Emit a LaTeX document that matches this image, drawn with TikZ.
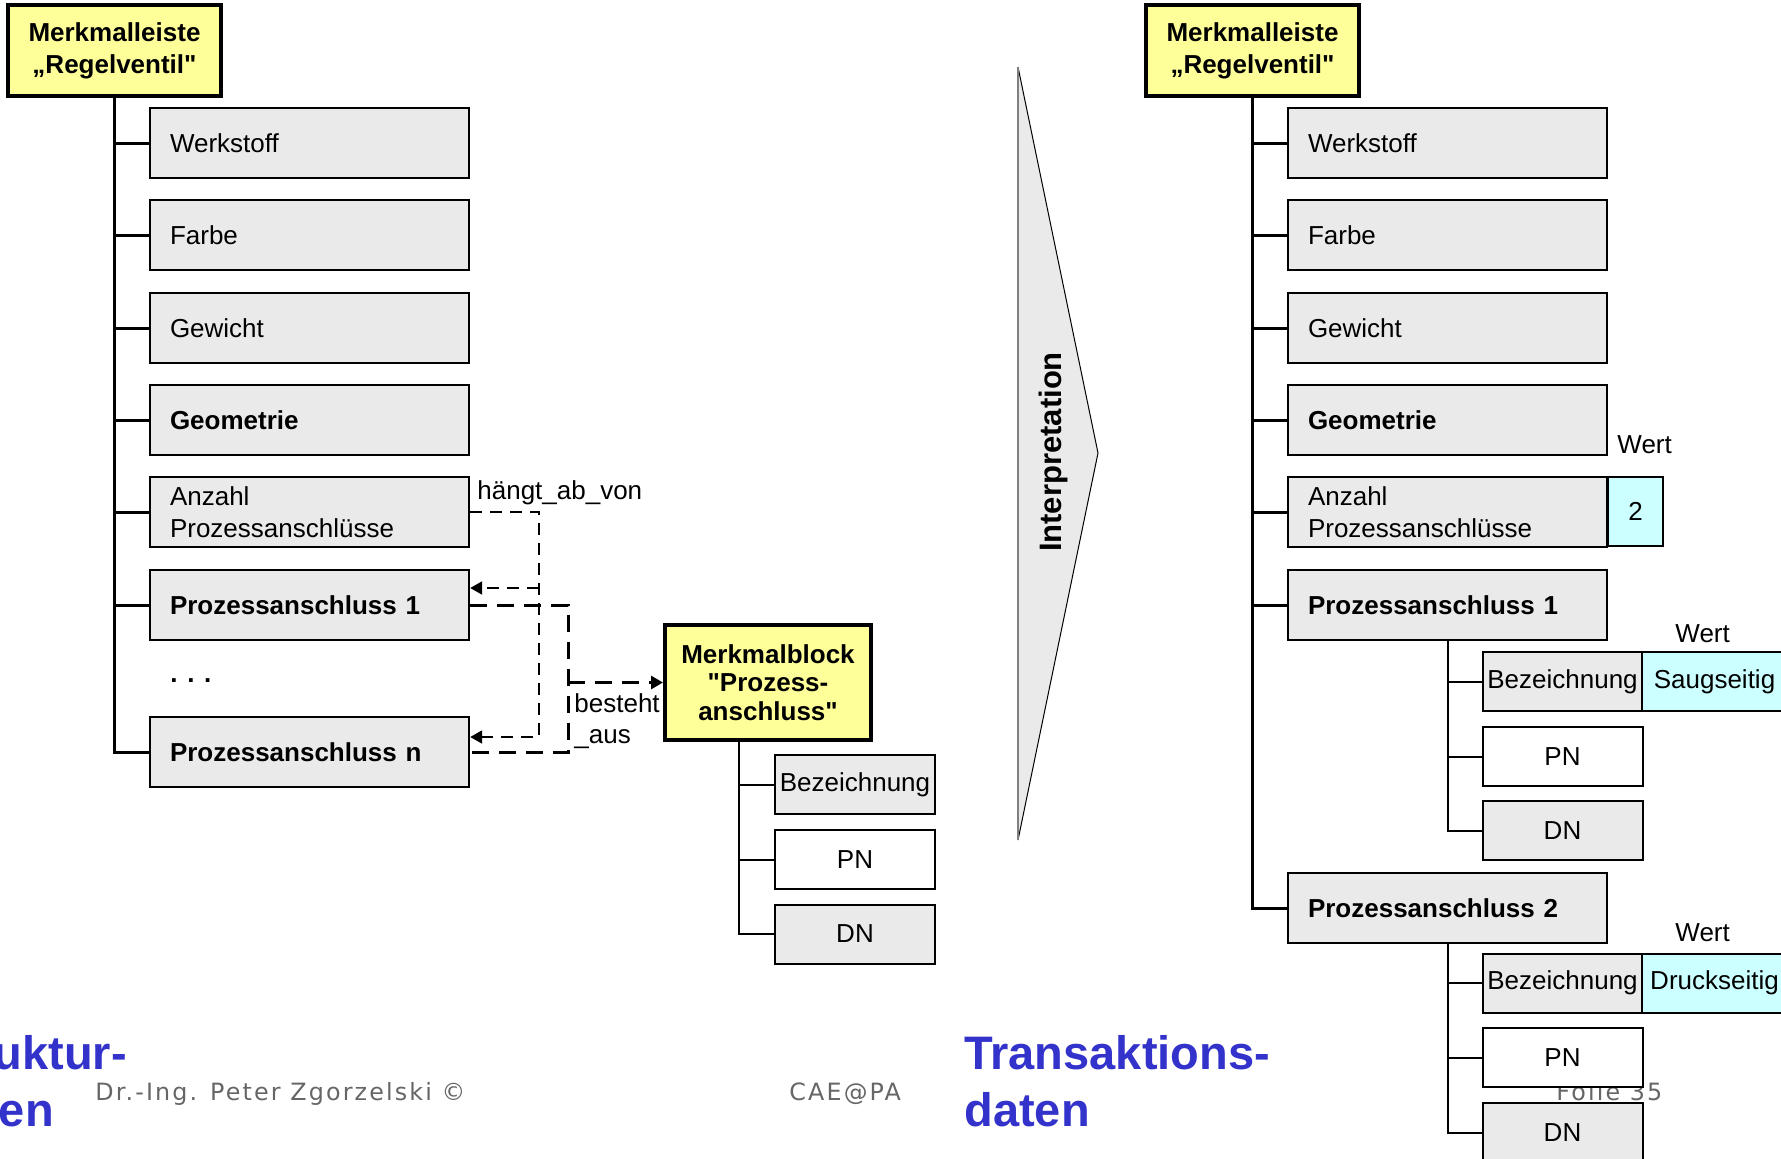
\documentclass[tikz,border=0pt]{standalone}
\usepackage{fontspec}
\setmainfont{Liberation Sans}
% family without TeX ligature mapping, so that " stays a straight quote
\newfontfamily\qfont{Liberation Sans}
\newcommand\sq{{\qfont"}}
\newfontfamily\footfont[LetterSpace=9]{DejaVu Sans}
\usetikzlibrary{arrows.meta}
\definecolor{boxgray}{HTML}{EAEAEA}
\definecolor{markyellow}{HTML}{FFFF99}
\definecolor{valcyan}{HTML}{CCFFFF}
\definecolor{titleblue}{HTML}{3333CC}
\definecolor{footgray}{HTML}{666666}
\newcommand\bodysize{\fontsize{13pt}{16pt}\selectfont}

\begin{document}
\begin{tikzpicture}[x=0.5pt,y=-0.5pt,
  every node/.style={font=\bodysize, inner sep=0pt},
  head/.style={draw=black, line width=2pt, fill=markyellow, font=\bodysize\bfseries,
    align=center, minimum width=106.5pt, minimum height=45.5pt},
  attr/.style={draw=black, line width=1.2pt, fill=boxgray, minimum width=159.5pt,
    minimum height=35pt, text width=139.5pt, inner xsep=10pt, align=left},
  battr/.style={attr, font=\bodysize\bfseries},
  sub/.style={draw=black, line width=1pt, fill=boxgray, minimum width=80pt,
    minimum height=29.5pt, align=center},
  subw/.style={sub, fill=white},
  val/.style={draw=black, line width=1pt, fill=valcyan, minimum height=29.5pt},
  trunk/.style={line width=1.5pt},
  twig/.style={line width=1pt},
  dep/.style={line width=1pt, dash pattern=on 6pt off 4pt},
  cons/.style={line width=1.5pt, dash pattern=on 8.5pt off 5pt},
  tip/.style={-{Triangle[length=6pt,width=6.5pt]}},
  title/.style={anchor=base west, font=\fontsize{23.5pt}{28.5pt}\selectfont\bfseries, text=titleblue},
  foot/.style={anchor=base west, font=\footfont\fontsize{11.9pt}{14pt}\selectfont, text=footgray},
  lbl/.style={anchor=base west}
]
\useasboundingbox (0,0) rectangle (1781,1158);
\clip (0,0) rectangle (1781,1158);
\fill[white] (0,0) rectangle (1781,1158);

% footer and section titles (drawn first, boxes may cover them)
\node[title] (st1) at (-72,1069) {Struktur-};
\node[title] (st2) at (-72,1126) {daten};
\node[title] (tr1) at (964,1069) {Transaktions-};
\node[title] (tr2) at (964,1126) {daten};
\node[foot] (fauth) at (95,1100) {Dr.-Ing. Peter Zgorzelski ©};
\node[foot] (fcae) at (789,1100) {CAE@PA};
\node[foot] (ffol) at (1556,1100) {Folie 35};

% interpretation arrow
\fill[boxgray] (1018,67) -- (1098,453) -- (1018,840) -- cycle;
\draw[line width=0.5pt] (1018,67) -- (1098,453) -- (1018,840);
\draw[gray, line width=1pt] (1018,67) -- (1018,840);
\node[rotate=90, anchor=base, font=\fontsize{15.5pt}{18pt}\selectfont\bfseries] (interp) at (1061,452) {Interpretation};

% ---------- structure data (left) ----------
\node[head] (lroot) at (114.5,50.5) {Merkmalleiste\\„Regelventil\sq};
\node[attr] (lwerk) at (309.5,143) {Werkstoff};
\node[attr] (lfarb) at (309.5,235) {Farbe};
\node[attr] (lgew) at (309.5,328) {Gewicht};
\node[battr] (lgeo) at (309.5,420) {Geometrie};
\node[attr] (lanz) at (309.5,512) {Anzahl\\Prozessanschlüsse};
\node[battr] (lpa1) at (309.5,605) {Prozessanschluss 1};
\node[lbl, font=\bodysize\bfseries] (ldots) at (170,682) {. . .};
\node[battr] (lpan) at (309.5,752) {Prozessanschluss n};

\draw[trunk] (lroot.south) |- (lpan.west);
\foreach \n in {lwerk,lfarb,lgew,lgeo,lanz,lpa1}
  \draw[trunk] (lroot.south |- \n.west) -- (\n.west);

% feature block
\node[head, font=\fontsize{13pt}{14.25pt}\selectfont\bfseries, minimum width=103pt,
  minimum height=57.5pt] (mblk) at (768,682.5) {Merkmalblock\\\sq Prozess-\\anschluss\sq};
\node[sub] (mbez) at (855,784.5) {Bezeichnung};
\node[subw] (mpn) at (855,859.5) {PN};
\node[sub] (mdn) at (855,934) {DN};
\coordinate (mt) at ([xshift=38pt]mblk.south west);
\draw[twig] (mt) |- (mdn.west);
\draw[twig] (mt |- mbez.west) -- (mbez.west);
\draw[twig] (mt |- mpn.west) -- (mpn.west);

% relations
\coordinate (dja) at (539,588);
\coordinate (djb) at (539,737);
\draw[dep,tip] (lanz.east) -| (djb) -- (lpan.east |- djb);
\draw[dep,tip] (dja) -- (lpa1.east |- dja);
\node[lbl] (lhab) at (477,499) {hängt\_ab\_von};

\coordinate (cj) at (568,682.5);
\draw[cons] (lpa1.east) -| (cj |- lpan.east) -- (lpan.east);
\draw[cons,tip] (cj) -- (mblk.west);
\node[lbl] (lbest) at (574,712) {besteht};
\node[lbl] (laus) at (574,743) {\_aus};

% ---------- transaction data (right) ----------
\node[head] (rroot) at (1252.5,50.5) {Merkmalleiste\\„Regelventil\sq};
\node[attr] (rwerk) at (1447.5,143) {Werkstoff};
\node[attr] (rfarb) at (1447.5,235) {Farbe};
\node[attr] (rgew) at (1447.5,328) {Gewicht};
\node[battr] (rgeo) at (1447.5,420) {Geometrie};
\node[attr] (ranz) at (1447.5,512) {Anzahl\\Prozessanschlüsse};
\node[battr] (rpa1) at (1447.5,605) {Prozessanschluss 1};
\node[battr] (rpa2) at (1447.5,908) {Prozessanschluss 2};

\draw[trunk] (rroot.south) |- (rpa2.west);
\foreach \n in {rwerk,rfarb,rgew,rgeo,ranz,rpa1}
  \draw[trunk] (rroot.south |- \n.west) -- (\n.west);

\node[sub] (rbez1) at (1562.5,681.5) {Bezeichnung};
\node[subw] (rpn1) at (1562.5,756.5) {PN};
\node[sub] (rdn1) at (1562.5,830.5) {DN};
\draw[twig] (rpa1.south) |- (rdn1.west);
\draw[twig] (rpa1.south |- rbez1.west) -- (rbez1.west);
\draw[twig] (rpa1.south |- rpn1.west) -- (rpn1.west);

\node[sub] (rbez2) at (1562.5,983) {Bezeichnung};
\node[subw] (rpn2) at (1562.5,1057.5) {PN};
\node[sub] (rdn2) at (1562.5,1132.5) {DN};
\draw[twig] (rpa2.south) |- (rdn2.west);
\draw[twig] (rpa2.south |- rbez2.west) -- (rbez2.west);
\draw[twig] (rpa2.south |- rpn2.west) -- (rpn2.west);

% values
\node[val, minimum width=27.5pt, minimum height=34.5pt] (rv0) at (1635.5,511.5) {2};
\node[val, minimum width=72.5pt] (rv1) at (1714.5,681.5) {Saugseitig};
\node[val, minimum width=72.5pt] (rv2) at (1714.5,983) {Druckseitig};
\node[lbl] (rw0) at (1617,453) {Wert};
\node[lbl] (rw1) at (1675,642) {Wert};
\node[lbl] (rw2) at (1675,941) {Wert};
\end{tikzpicture}
\end{document}
